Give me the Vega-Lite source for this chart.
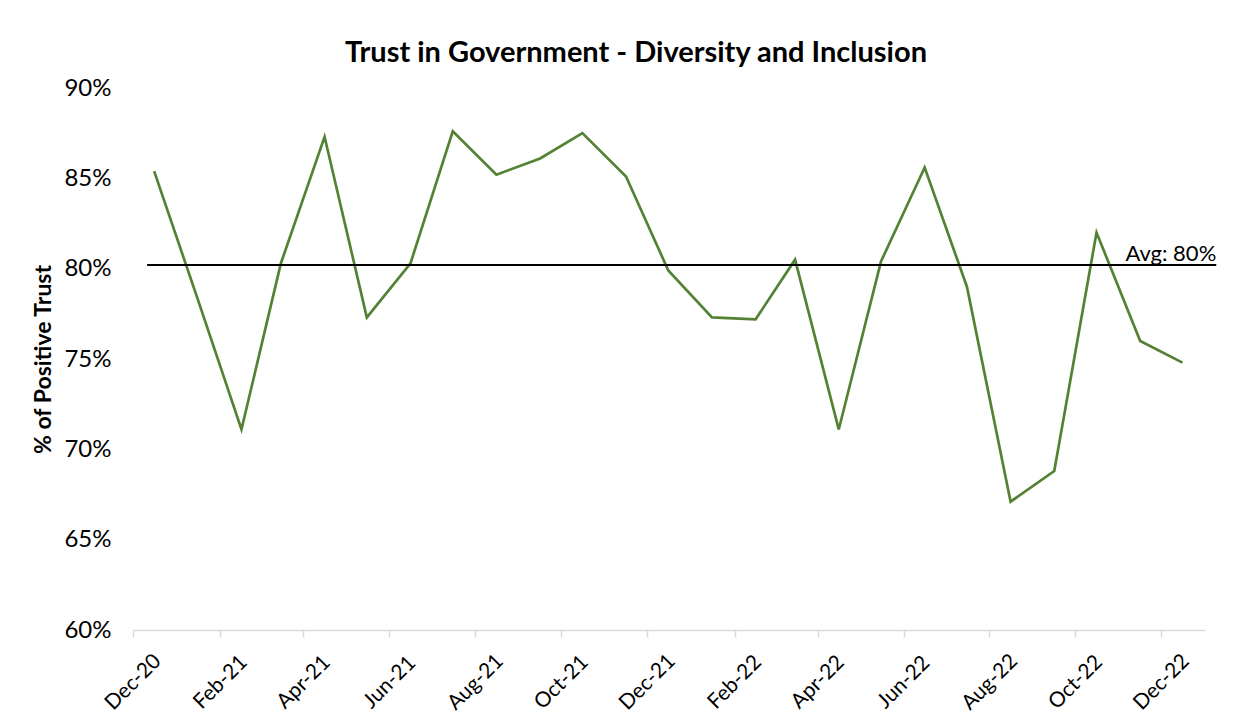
{
  "$schema": "https://vega.github.io/schema/vega-lite/v6.json",
  "autosize": "none",
  "width": 1072,
  "height": 542,
  "padding": {"left": 133, "top": 88, "right": 38, "bottom": 89},
  "background": "white",
  "config": {"view": {"stroke": null}, "font": "Lato"},
  "title": {
    "text": "Trust in Government - Diversity and Inclusion",
    "fontSize": 29,
    "fontWeight": "bold",
    "font": "Lato",
    "color": "#000000",
    "anchor": "middle",
    "dx": -33,
    "offset": 8
  },
  "datasets": {
    "trust": [
      {"month": "2020-12-16", "value": 0.854},
      {"month": "2021-01-16", "value": 0.783},
      {"month": "2021-02-16", "value": 0.711},
      {"month": "2021-03-16", "value": 0.803},
      {"month": "2021-04-16", "value": 0.873},
      {"month": "2021-05-16", "value": 0.773},
      {"month": "2021-06-16", "value": 0.803},
      {"month": "2021-07-16", "value": 0.876},
      {"month": "2021-08-16", "value": 0.852},
      {"month": "2021-09-16", "value": 0.861},
      {"month": "2021-10-16", "value": 0.875},
      {"month": "2021-11-16", "value": 0.851},
      {"month": "2021-12-16", "value": 0.799},
      {"month": "2022-01-16", "value": 0.773},
      {"month": "2022-02-16", "value": 0.772},
      {"month": "2022-03-16", "value": 0.805},
      {"month": "2022-04-16", "value": 0.711},
      {"month": "2022-05-16", "value": 0.804},
      {"month": "2022-06-16", "value": 0.856},
      {"month": "2022-07-16", "value": 0.790},
      {"month": "2022-08-16", "value": 0.671},
      {"month": "2022-09-16", "value": 0.688},
      {"month": "2022-10-16", "value": 0.820},
      {"month": "2022-11-16", "value": 0.760},
      {"month": "2022-12-16", "value": 0.748}
    ],
    "avg": [
      {"start": "2020-12-11", "end": "2023-01-09", "value": 0.802, "label": "Avg: 80%"}
    ]
  },
  "layer": [
    {
      "data": {"name": "trust"},
      "mark": {"type": "line", "color": "#548235", "strokeWidth": 2.7},
      "encoding": {
        "x": {
          "field": "month",
          "type": "temporal",
          "scale": {"domain": [{"year": 2020, "month": 12, "date": 1}, {"year": 2023, "month": 1, "date": 1}]},
          "axis": {
            "title": null,
            "format": "%b-%y",
            "values": [
              {"year": 2020, "month": 12, "date": 1},
              {"year": 2021, "month": 2, "date": 1},
              {"year": 2021, "month": 4, "date": 1},
              {"year": 2021, "month": 6, "date": 1},
              {"year": 2021, "month": 8, "date": 1},
              {"year": 2021, "month": 10, "date": 1},
              {"year": 2021, "month": 12, "date": 1},
              {"year": 2022, "month": 2, "date": 1},
              {"year": 2022, "month": 4, "date": 1},
              {"year": 2022, "month": 6, "date": 1},
              {"year": 2022, "month": 8, "date": 1},
              {"year": 2022, "month": 10, "date": 1},
              {"year": 2022, "month": 12, "date": 1}
            ],
            "labelAngle": -45,
            "labelAlign": "center",
            "labelBaseline": "middle",
            "labelFontSize": 21,
            "labelFont": "Lato",
            "labelColor": "#000000",
            "labelPadding": 45,
            "labelFlush": false,
            "labelOverlap": false,
            "grid": false,
            "domainColor": "#d9d9d9",
            "domainWidth": 1.5,
            "tickColor": "#d9d9d9",
            "tickSize": 7,
            "tickWidth": 1.5
          }
        },
        "y": {
          "field": "value",
          "type": "quantitative",
          "scale": {"domain": [0.6, 0.9], "zero": false, "nice": false},
          "axis": {
            "title": "% of Positive Trust",
            "titleFontSize": 23,
            "titleFont": "Lato",
            "titleFontWeight": "bold",
            "titleColor": "#000000",
            "titlePadding": 8,
            "format": ".0%",
            "values": [0.6, 0.65, 0.7, 0.75, 0.8, 0.85, 0.9],
            "labelFontSize": 24,
            "labelFont": "Lato",
            "labelColor": "#000000",
            "labelPadding": 22,
            "grid": false,
            "domain": false,
            "ticks": false
          }
        }
      }
    },
    {
      "data": {"name": "avg"},
      "mark": {"type": "rule", "color": "#000000", "strokeWidth": 2},
      "encoding": {
        "x": {"field": "start", "type": "temporal"},
        "x2": {"field": "end"},
        "y": {"field": "value", "type": "quantitative"}
      }
    },
    {
      "data": {"name": "avg"},
      "mark": {"type": "text", "align": "right", "baseline": "bottom", "fontSize": 22, "font": "Lato", "color": "#000000", "dy": 1},
      "encoding": {
        "x": {"field": "end", "type": "temporal"},
        "y": {"field": "value", "type": "quantitative"},
        "text": {"field": "label"}
      }
    }
  ]
}
